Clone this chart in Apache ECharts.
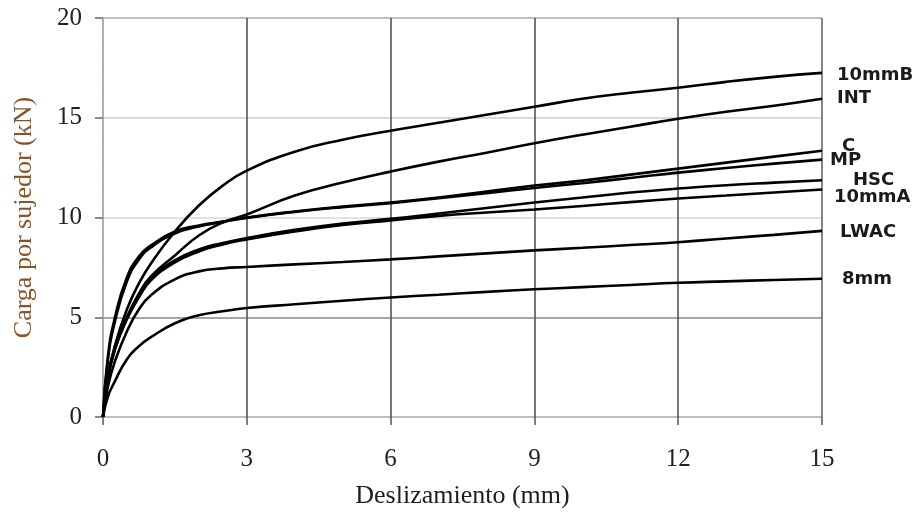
<!DOCTYPE html>
<html>
<head>
<meta charset="utf-8">
<script src="https://cdn.jsdelivr.net/npm/echarts@6/dist/echarts.min.js"></script>
<style>html,body{margin:0;padding:0;background:#fff}#c{width:916px;height:514px}</style>
</head>
<body>
<div id="c"></div>
<script>
// Slip values (mm)
const slip = [0, 0.1, 0.25, 0.5, 0.75, 1, 1.5, 2, 2.5, 3, 4, 5, 6, 7, 8, 9, 10, 11, 12, 13, 14, 15];
// Load per connector (kN)
const s10mmB = [0, 2.0, 3.6, 5.4, 6.7, 7.7, 9.3, 10.6, 11.6, 12.35, 13.3, 13.9, 14.35, 14.75, 15.15, 15.55, 15.95, 16.25, 16.5, 16.8, 17.05, 17.25];
const sINT   = [0, 1.9, 3.4, 5.0, 6.2, 7.05, 8.1, 9.1, 9.75, 10.15, 11.1, 11.75, 12.3, 12.8, 13.25, 13.72, 14.15, 14.55, 14.95, 15.3, 15.6, 15.95];
const sC     = [0, 3.0, 5.0, 7.0, 8.05, 8.6, 9.3, 9.6, 9.8, 10.0, 10.3, 10.55, 10.75, 11.0, 11.3, 11.6, 11.85, 12.15, 12.45, 12.75, 13.05, 13.35];
const sMP    = [0, 2.8, 4.8, 6.8, 7.9, 8.5, 9.2, 9.55, 9.78, 9.98, 10.28, 10.52, 10.72, 10.97, 11.22, 11.48, 11.72, 11.98, 12.25, 12.48, 12.7, 12.9];
const sHSC   = [0, 2.0, 3.5, 5.0, 6.1, 6.95, 7.85, 8.4, 8.72, 8.97, 9.38, 9.7, 9.93, 10.2, 10.48, 10.75, 11.0, 11.25, 11.45, 11.62, 11.75, 11.87];
const s10mmA = [0, 1.9, 3.4, 4.9, 6.0, 6.85, 7.75, 8.3, 8.65, 8.9, 9.3, 9.62, 9.85, 10.08, 10.25, 10.4, 10.58, 10.77, 10.95, 11.1, 11.25, 11.4];
const sLWAC  = [0, 1.5, 2.8, 4.3, 5.4, 6.1, 6.9, 7.3, 7.45, 7.52, 7.65, 7.77, 7.9, 8.05, 8.2, 8.35, 8.48, 8.62, 8.76, 8.95, 9.13, 9.33];
const s8mm   = [0, 1.0, 1.8, 2.9, 3.55, 4.0, 4.7, 5.1, 5.3, 5.46, 5.65, 5.83, 5.99, 6.13, 6.27, 6.4, 6.51, 6.62, 6.73, 6.8, 6.87, 6.93];

const seriesNames = ['10mmB', 'INT', 'C', 'MP', 'HSC', '10mmA', 'LWAC', '8mm'];
const seriesValues = [s10mmB, sINT, sC, sMP, sHSC, s10mmA, sLWAC, s8mm];
const labelOffsets = [[15, 2], [15, 0], [20, -4], [8, 1], [31, 0], [12, 8], [18, 1], [20, 1]];

const chart = echarts.init(document.getElementById('c'), null, {renderer: 'canvas'});
const serif = '"Liberation Serif", "Times New Roman", serif';

chart.setOption({
  animation: false,
  backgroundColor: '#fff',
  grid: {left: 103, right: 94, top: 18, bottom: 92, containLabel: false},
  xAxis: {
    type: 'value', min: 0, max: 15, interval: 3,
    name: 'Deslizamiento (mm)', nameLocation: 'middle', nameGap: 66,
    nameTextStyle: {fontFamily: serif, fontSize: 26, color: '#1c1c24'},
    axisLine: {show: false},
    axisTick: {show: true, length: 8, lineStyle: {color: '#555', width: 1.5}},
    axisLabel: {fontFamily: serif, fontSize: 25, color: '#222', margin: 30},
    splitLine: {show: true, lineStyle: {color: ['#aaa', '#555', '#555', '#555', '#555', '#666'], width: 1.6}}
  },
  yAxis: {
    type: 'value', min: 0, max: 20, interval: 5,
    name: 'Carga por sujedor (kN)', nameLocation: 'middle', nameGap: 66,
    nameTextStyle: {fontFamily: serif, fontSize: 26, color: '#8a5326'},
    axisLine: {show: true, lineStyle: {color: '#aaa', width: 1.5, type: 'dotted'}},
    axisTick: {show: true, length: 8, lineStyle: {color: '#666', width: 1.5}},
    axisLabel: {fontFamily: serif, fontSize: 25, color: '#222', margin: 21},
    splitLine: {show: true, lineStyle: {color: ['#aaa', '#888', '#d8d8d8', '#cfcfcf', '#aaa'], width: 1.5}}
  },
  series: seriesNames.map((n, i) => ({
    name: n,
    type: 'line',
    data: slip.map((x, j) => [x, seriesValues[i][j]]),
    smooth: 0.5,
    showSymbol: false,
    symbol: 'none',
    lineStyle: {color: '#000', width: 2.6},
    endLabel: {
      show: true, formatter: '{a}', distance: 0, offset: labelOffsets[i],
      fontFamily: '"DejaVu Sans", sans-serif', fontWeight: 'bold', fontSize: 18, color: '#1a1a1a'
    }
  }))
});
</script>
</body>
</html>
